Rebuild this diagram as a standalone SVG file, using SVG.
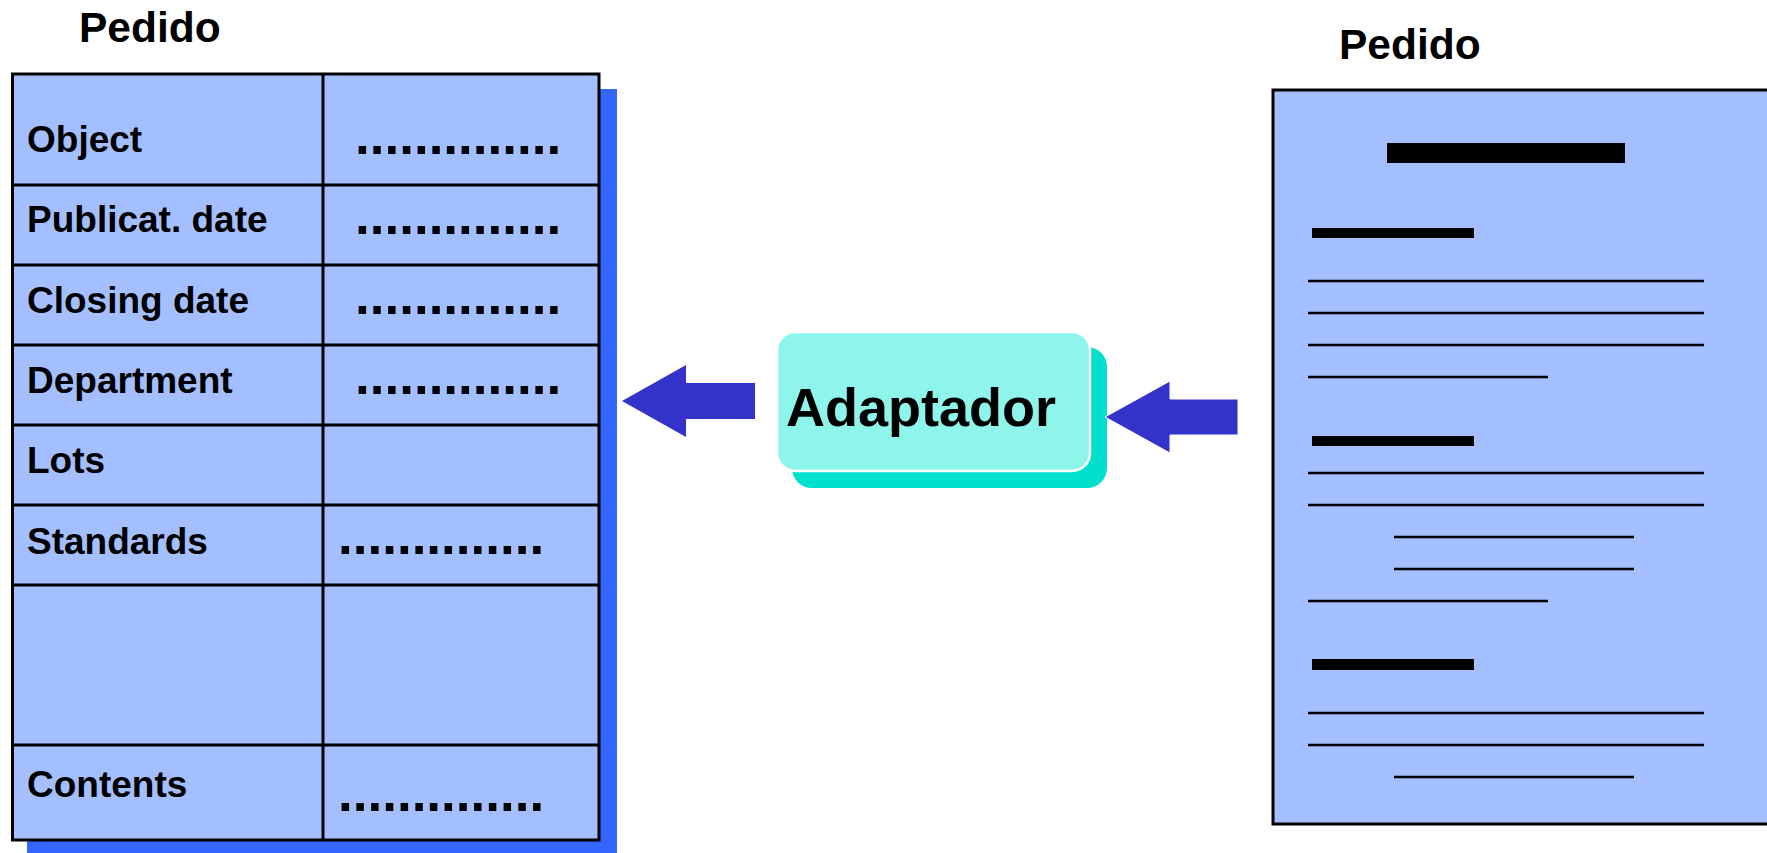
<svg xmlns="http://www.w3.org/2000/svg" width="1767" height="853" viewBox="0 0 1767 853">
<style>
text{font-family:"Liberation Sans",Arial,sans-serif;font-weight:bold;fill:#000}
.title{font-size:42.5px}
.lbl{font-size:37px}
.dots{font-size:53px}
.grid{stroke:#000;stroke-width:3;fill:none}
.doc{stroke:#000;stroke-width:3}
.bar{fill:#000}
.arrow{fill:#3333CC}
</style>
<rect width="1767" height="853" fill="#fff"/>
<g id="pedido-tabla">
  <text class="title" x="79" y="42">Pedido</text>
  <rect x="27" y="89" width="590" height="770" fill="#3366FF"/>
  <rect x="12.5" y="74" width="586.5" height="766" fill="#A3BFFF"/>
  <g class="grid">
    <rect x="12.5" y="74" width="586.5" height="766"/>
    <line x1="323" y1="74" x2="323" y2="840"/>
    <line x1="12.5" y1="185" x2="599" y2="185"/>
    <line x1="12.5" y1="265" x2="599" y2="265"/>
    <line x1="12.5" y1="345" x2="599" y2="345"/>
    <line x1="12.5" y1="425" x2="599" y2="425"/>
    <line x1="12.5" y1="505" x2="599" y2="505"/>
    <line x1="12.5" y1="585" x2="599" y2="585"/>
    <line x1="12.5" y1="745" x2="599" y2="745"/>
  </g>
  <text class="lbl" x="27" y="152">Object</text>
  <text class="lbl" x="27" y="232">Publicat. date</text>
  <text class="lbl" x="27" y="313">Closing date</text>
  <text class="lbl" x="27" y="393">Department</text>
  <text class="lbl" x="27" y="473">Lots</text>
  <text class="lbl" x="27" y="554">Standards</text>
  <text class="lbl" x="27" y="797">Contents</text>
  <text class="dots" x="355" y="154">..............</text>
  <text class="dots" x="355" y="234">..............</text>
  <text class="dots" x="355" y="314">..............</text>
  <text class="dots" x="355" y="394">..............</text>
  <text class="dots" x="338" y="554">..............</text>
  <text class="dots" x="338" y="811">..............</text>
</g>
<g id="adaptador">
  <rect x="792" y="347" width="315" height="141" rx="20" fill="#00E0CC"/>
  <rect x="777" y="332" width="313" height="139" rx="18" fill="#8EF5EB" stroke="#fff" stroke-width="2.5"/>
  <text x="786" y="426" font-size="54">Adaptador</text>
</g>
<g id="pedido-documento">
  <text class="title" x="1339" y="59">Pedido</text>
  <rect x="1273" y="90" width="500" height="734" fill="#A3BFFF" class="doc"/>
  <rect class="bar" x="1387" y="143" width="238" height="20"/>
  <rect class="bar" x="1312" y="228" width="162" height="10"/>
  <rect class="bar" x="1312" y="436" width="162" height="10"/>
  <rect class="bar" x="1312" y="659" width="162" height="11"/>
  <g stroke="#000" stroke-width="2.5">
    <line x1="1308" y1="281" x2="1704" y2="281"/>
    <line x1="1308" y1="313" x2="1704" y2="313"/>
    <line x1="1308" y1="345" x2="1704" y2="345"/>
    <line x1="1308" y1="377" x2="1548" y2="377"/>
    <line x1="1308" y1="473" x2="1704" y2="473"/>
    <line x1="1308" y1="505" x2="1704" y2="505"/>
    <line x1="1394" y1="537" x2="1634" y2="537"/>
    <line x1="1394" y1="569" x2="1634" y2="569"/>
    <line x1="1308" y1="601" x2="1548" y2="601"/>
    <line x1="1308" y1="713" x2="1704" y2="713"/>
    <line x1="1308" y1="745" x2="1704" y2="745"/>
    <line x1="1394" y1="777" x2="1634" y2="777"/>
  </g>
</g>
<g id="connectors">
  <polygon class="arrow" points="622,401 686,365 686,383 755,383 755,419 686,419 686,437"/>
  <polygon class="arrow" points="1105,417 1170,381 1170,399 1238,399 1238,435 1170,435 1170,453" stroke="#fff" stroke-width="1"/>
</g>
</svg>
